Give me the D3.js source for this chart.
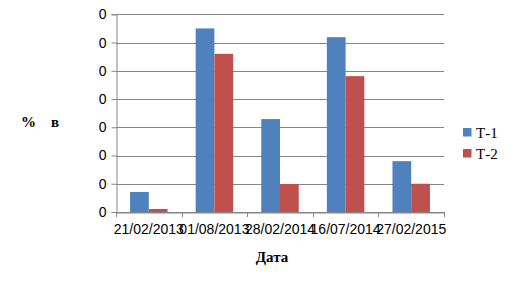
<!DOCTYPE html>
<html>
<head>
<meta charset="utf-8">
<script src="https://cdn.jsdelivr.net/npm/d3@7"></script>
<style>
  body { margin: 0; background: #fff; }
</style>
</head>
<body>
<div id="chart"></div>
<script>
// Grouped bar chart — Т-1 / Т-2 by date
const categories = ["21/02/2013", "01/08/2013", "28/02/2014", "16/07/2014", "27/02/2015"];
const seriesNames = ["Т-1", "Т-2"];
const valuesT1 = [0.071, 0.650, 0.329, 0.619, 0.180];
const valuesT2 = [0.0106, 0.560, 0.099, 0.481, 0.100];
const yTicks = [0, 0.1, 0.2, 0.3, 0.4, 0.5, 0.6, 0.7];
const yTickLabels = ["0", "0", "0", "0", "0", "0", "0", "0"];
const colors = ["#4F81BD", "#C0504D"];

(function(){
  const width = 513, height = 286;
  const plot = {left: 116, right: 444, top: 14.3, bottom: 212};
  const gridColor = "#868686";

  const svg = d3.select("#chart").append("svg")
    .attr("width", width)
    .attr("height", height);

  const x = d3.scaleBand()
    .domain(categories)
    .range([plot.left, plot.right])
    .padding(0);

  const xInner = d3.scaleBand()
    .domain(seriesNames)
    .range([0, x.bandwidth()])
    .paddingInner(0)
    .paddingOuter(0.75);

  const y = d3.scaleLinear()
    .domain([0, 0.7])
    .range([plot.bottom, plot.top]);

  // Gridlines
  svg.append("g")
    .selectAll("line")
    .data(yTicks)
    .join("line")
    .attr("x1", plot.left)
    .attr("x2", plot.right)
    .attr("y1", d => Math.round(y(d)) + 0.5)
    .attr("y2", d => Math.round(y(d)) + 0.5)
    .attr("stroke", gridColor)
    .attr("stroke-width", 1);

  // Bars
  const rows = categories.map((c, i) => ({cat: c, vals: [valuesT1[i], valuesT2[i]]}));
  const groups = svg.append("g")
    .selectAll("g")
    .data(rows)
    .join("g")
    .attr("transform", d => `translate(${x(d.cat)},0)`);

  groups.selectAll("rect")
    .data(d => d.vals.map((v, j) => ({name: seriesNames[j], v, j})))
    .join("rect")
    .attr("x", d => xInner(d.name))
    .attr("width", xInner.bandwidth())
    .attr("y", d => y(d.v))
    .attr("height", d => y(0) - y(d.v))
    .attr("fill", d => colors[d.j]);

  // Y axis
  const yAxis = svg.append("g")
    .attr("transform", `translate(${plot.left + 0.5},0)`)
    .call(d3.axisLeft(y).tickValues(yTicks).tickSize(5).tickFormat((d, i) => yTickLabels[i]));
  yAxis.select(".domain").attr("stroke", gridColor);
  yAxis.selectAll(".tick line").attr("stroke", gridColor);
  yAxis.selectAll(".tick text")
    .attr("x", -10)
    .attr("fill", "#000")
    .style("font-family", "Liberation Sans, Arial, sans-serif")
    .style("font-size", "14px");

  // X axis
  const xAxis = svg.append("g")
    .attr("transform", `translate(0,${plot.bottom + 0.5})`)
    .call(d3.axisBottom(x).tickSize(0).tickSizeOuter(0));
  xAxis.select(".domain").attr("stroke", gridColor);
  xAxis.selectAll(".tick text")
    .attr("y", 0)
    .attr("dy", "21.5px")
    .attr("fill", "#000")
    .style("font-family", "Liberation Sans, Arial, sans-serif")
    .style("font-size", "14px");

  // X axis tick marks at category boundaries
  const bounds = categories.map(c => x(c)).concat([plot.right]);
  svg.append("g")
    .selectAll("line")
    .data(bounds)
    .join("line")
    .attr("x1", d => Math.round(d) + 0.5)
    .attr("x2", d => Math.round(d) + 0.5)
    .attr("y1", plot.bottom)
    .attr("y2", plot.bottom + 5)
    .attr("stroke", gridColor);

  // Axis titles
  svg.append("text")
    .attr("x", 272)
    .attr("y", 262)
    .attr("text-anchor", "middle")
    .style("font-family", "Liberation Serif, Times New Roman, serif")
    .style("font-weight", "bold")
    .style("font-size", "15px")
    .text("Дата");

  svg.append("text")
    .attr("x", 21)
    .attr("y", 127)
    .style("font-family", "Liberation Serif, Times New Roman, serif")
    .style("font-weight", "bold")
    .style("font-size", "15px")
    .style("white-space", "pre")
    .text("%    в");

  // Legend
  const legend = svg.append("g")
    .attr("transform", "translate(463,128)");
  seriesNames.forEach((name, i) => {
    const row = legend.append("g")
      .attr("transform", `translate(0,${i * 21})`);
    row.append("rect")
      .attr("width", 8.5)
      .attr("height", 8.5)
      .attr("fill", colors[i]);
    row.append("text")
      .attr("x", 13)
      .attr("y", 10)
      .style("font-family", "Liberation Serif, Times New Roman, serif")
      .style("font-size", "15px")
      .text(name);
  });
})();
</script>
</body>
</html>
